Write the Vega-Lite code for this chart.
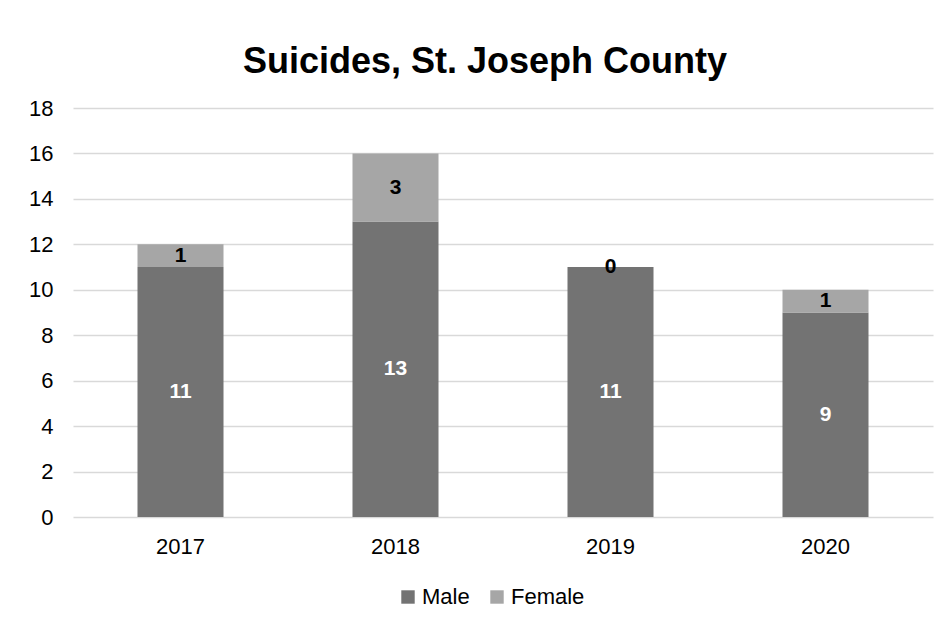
{
  "$schema": "https://vega.github.io/schema/vega-lite/v6.json",
  "width": 860,
  "height": 409,
  "autosize": {"type": "none"},
  "padding": {"left": 73, "top": 108, "right": 18, "bottom": 112},
  "background": "white",
  "title": {
    "text": "Suicides, St. Joseph County",
    "font": "Liberation Sans",
    "fontSize": 36,
    "fontWeight": "bold",
    "color": "#000000",
    "anchor": "middle",
    "dx": -18,
    "offset": 16
  },
  "data": {
    "values": [
      {"year": "2017", "sex": "Male", "count": 11},
      {"year": "2017", "sex": "Female", "count": 1},
      {"year": "2018", "sex": "Male", "count": 13},
      {"year": "2018", "sex": "Female", "count": 3},
      {"year": "2019", "sex": "Male", "count": 11},
      {"year": "2019", "sex": "Female", "count": 0},
      {"year": "2020", "sex": "Male", "count": 9},
      {"year": "2020", "sex": "Female", "count": 1}
    ]
  },
  "transform": [
    {"stack": "count", "groupby": ["year"], "sort": [{"field": "sex", "order": "descending"}], "as": ["y0", "y1"]},
    {"calculate": "(datum.y0 + datum.y1) / 2", "as": "mid"}
  ],
  "encoding": {
    "x": {
      "field": "year",
      "type": "nominal",
      "scale": {"paddingInner": 0.6, "paddingOuter": 0.3},
      "axis": {
        "title": null,
        "labelAngle": 0,
        "labelFont": "Liberation Sans",
        "labelFontSize": 22,
        "labelColor": "#000000",
        "labelPadding": 19,
        "domain": false,
        "ticks": false,
        "grid": false
      }
    }
  },
  "layer": [
    {
      "mark": {"type": "bar"},
      "encoding": {
        "y": {
          "field": "y0",
          "type": "quantitative",
          "scale": {"domain": [0, 18], "nice": false},
          "axis": {
            "title": null,
            "values": [0, 2, 4, 6, 8, 10, 12, 14, 16, 18],
            "labelFont": "Liberation Sans",
            "labelFontSize": 22,
            "labelColor": "#000000",
            "labelPadding": 20,
            "domain": false,
            "ticks": false,
            "grid": true,
            "gridColor": "#d9d9d9",
            "gridWidth": 1.5
          }
        },
        "y2": {"field": "y1"},
        "color": {
          "field": "sex",
          "type": "nominal",
          "scale": {"domain": ["Male", "Female"], "range": ["#737373", "#a6a6a6"]},
          "legend": {
            "title": null,
            "orient": "none",
            "direction": "horizontal",
            "legendX": 324,
            "legendY": 478,
            "symbolType": "square",
            "symbolSize": 180,
            "symbolStrokeWidth": 0,
            "labelFont": "Liberation Sans",
            "labelFontSize": 22,
            "labelColor": "#000000",
            "columnPadding": 16,
            "labelOffset": 3
          }
        }
      }
    },
    {
      "transform": [{"filter": "datum.sex == 'Male'"}],
      "mark": {"type": "text", "font": "Liberation Sans", "fontSize": 21, "fontWeight": "bold", "color": "#ffffff", "baseline": "middle"},
      "encoding": {
        "y": {"field": "mid", "type": "quantitative"},
        "text": {"field": "count", "type": "quantitative"}
      }
    },
    {
      "transform": [{"filter": "datum.sex == 'Female'"}],
      "mark": {"type": "text", "font": "Liberation Sans", "fontSize": 21, "fontWeight": "bold", "color": "#000000", "baseline": "middle"},
      "encoding": {
        "y": {"field": "mid", "type": "quantitative"},
        "text": {"field": "count", "type": "quantitative"}
      }
    }
  ],
  "config": {
    "view": {"stroke": null}
  }
}
